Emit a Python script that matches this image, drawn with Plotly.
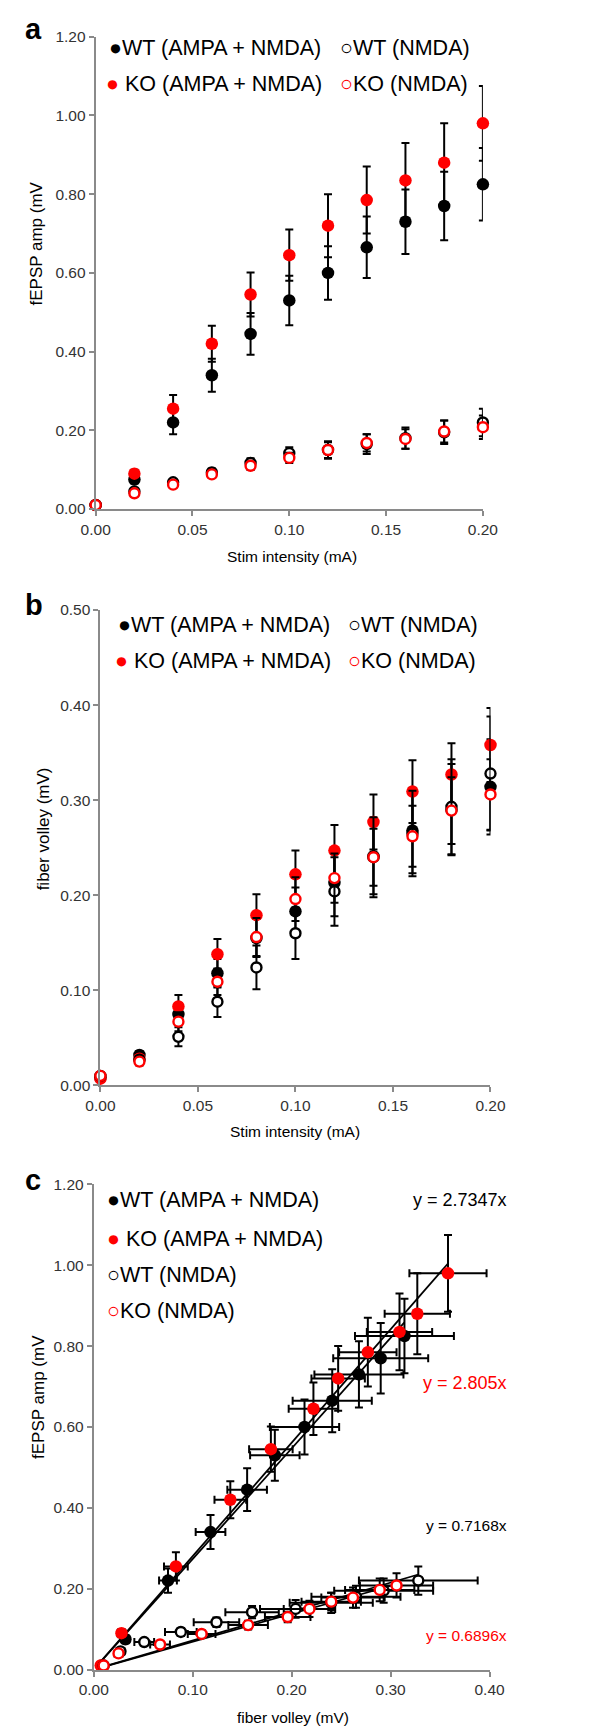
import plotly.graph_objects as go

# stimulus intensities (mA)
stim = [0.0, 0.02, 0.04, 0.06, 0.08, 0.10, 0.12, 0.14, 0.16, 0.18, 0.20]

# panel a: fEPSP amplitude (mV)
fepsp_wt_ampa = [0.01, 0.075, 0.22, 0.34, 0.445, 0.53, 0.60, 0.665, 0.73, 0.77, 0.825]
fepsp_wt_ampa_err = [0.003, 0.01, 0.03, 0.042, 0.053, 0.063, 0.068, 0.078, 0.082, 0.087, 0.092]
fepsp_ko_ampa = [0.01, 0.09, 0.255, 0.42, 0.545, 0.645, 0.72, 0.785, 0.835, 0.88, 0.98]
fepsp_ko_ampa_err = [0.003, 0.01, 0.035, 0.046, 0.056, 0.065, 0.08, 0.085, 0.095, 0.1, 0.095]
fepsp_wt_nmda = [0.01, 0.045, 0.068, 0.093, 0.117, 0.142, 0.15, 0.165, 0.18, 0.195, 0.22]
fepsp_wt_nmda_err = [0.002, 0.005, 0.007, 0.01, 0.012, 0.015, 0.022, 0.025, 0.027, 0.03, 0.035]
fepsp_ko_nmda = [0.01, 0.04, 0.062, 0.088, 0.11, 0.13, 0.15, 0.168, 0.178, 0.197, 0.208]
fepsp_ko_nmda_err = [0.002, 0.005, 0.007, 0.009, 0.011, 0.013, 0.02, 0.022, 0.025, 0.028, 0.03]

# panel b: fiber volley (mV)
fv_wt_ampa = [0.008, 0.032, 0.075, 0.118, 0.155, 0.183, 0.213, 0.241, 0.268, 0.29, 0.314]
fv_wt_ampa_err = [0.002, 0.004, 0.009, 0.015, 0.02, 0.025, 0.035, 0.04, 0.045, 0.048, 0.05]
fv_ko_ampa = [0.007, 0.028, 0.083, 0.138, 0.179, 0.222, 0.247, 0.277, 0.309, 0.327, 0.358]
fv_ko_ampa_err = [0.002, 0.004, 0.012, 0.016, 0.022, 0.025, 0.027, 0.029, 0.033, 0.033, 0.039]
fv_wt_nmda = [0.01, 0.027, 0.051, 0.088, 0.124, 0.16, 0.204, 0.24, 0.265, 0.293, 0.328]
fv_wt_nmda_err = [0.002, 0.004, 0.01, 0.016, 0.023, 0.027, 0.036, 0.042, 0.045, 0.05, 0.06]
fv_ko_nmda = [0.01, 0.025, 0.067, 0.109, 0.156, 0.196, 0.218, 0.24, 0.262, 0.289, 0.306]
fv_ko_nmda_err = [0.002, 0.004, 0.01, 0.014, 0.02, 0.023, 0.026, 0.03, 0.032, 0.035, 0.037]

# panel c: fitted slopes through origin
slopes = [2.7347, 2.805, 0.7168, 0.6896]
slope_labels = ["y = 2.7347x", "y = 2.805x", "y = 0.7168x", "y = 0.6896x"]

RED = "#ff0000"
FONT = "Arial, Liberation Sans, sans-serif"
W, H = 589, 1734

series = [
    ("WT (AMPA + NMDA)", "black", True, fepsp_wt_ampa, fepsp_wt_ampa_err, fv_wt_ampa, fv_wt_ampa_err),
    ("KO (AMPA + NMDA)", RED, True, fepsp_ko_ampa, fepsp_ko_ampa_err, fv_ko_ampa, fv_ko_ampa_err),
    ("WT (NMDA)", "black", False, fepsp_wt_nmda, fepsp_wt_nmda_err, fv_wt_nmda, fv_wt_nmda_err),
    ("KO (NMDA)", RED, False, fepsp_ko_nmda, fepsp_ko_nmda_err, fv_ko_nmda, fv_ko_nmda_err),
]


def marker(color, filled):
    if filled:
        return dict(color=color, size=12.5, line=dict(width=0))
    return dict(color="white", size=10, line=dict(color=color, width=2.4))


def err(arr):
    return dict(type="data", array=arr, color="black", thickness=2, width=4)


fig = go.Figure()

# fitted lines for panel c (drawn beneath the points)
line_sets = [fv_wt_ampa, fv_ko_ampa, fv_wt_nmda, fv_ko_nmda]
for k, fv in zip(slopes, line_sets):
    xs = [min(fv), max(fv)]
    fig.add_scatter(x=xs, y=[k * v for v in xs], mode="lines", xaxis="x3", yaxis="y3",
                    line=dict(color="black", width=1.8), showlegend=False, hoverinfo="skip")

for name, color, filled, amp, amp_e, fv, fv_e in series:
    fig.add_scatter(x=stim, y=amp, error_y=err(amp_e), mode="markers", name=name,
                    marker=marker(color, filled), xaxis="x", yaxis="y",
                    cliponaxis=False, showlegend=False)
    fig.add_scatter(x=stim, y=fv, error_y=err(fv_e), mode="markers", name=name,
                    marker=marker(color, filled), xaxis="x2", yaxis="y2",
                    cliponaxis=False, showlegend=False)
    fig.add_scatter(x=fv, y=amp, error_y=err(amp_e), error_x=err(fv_e), mode="markers", name=name,
                    marker=marker(color, filled), xaxis="x3", yaxis="y3",
                    cliponaxis=False, showlegend=False)


def px_x(x):
    return x / W


def px_y(y):
    return 1 - y / H


axis_style = dict(showgrid=False, zeroline=False, showline=True, linecolor="#8a8a8a", linewidth=2,
                  ticks="outside", ticklen=5, tickwidth=1.5, tickcolor="#8a8a8a",
                  tickfont=dict(size=15.5, color="#333333", family=FONT), tickformat=".2f")

fig.update_layout(
    width=W, height=H, margin=dict(l=0, r=0, t=0, b=0),
    paper_bgcolor="white", plot_bgcolor="white",
    font=dict(family=FONT, color="black"),
    xaxis=dict(axis_style, domain=[px_x(85), px_x(493)], range=[0, 0.2], dtick=0.05, anchor="y"),
    yaxis=dict(axis_style, domain=[px_y(505), px_y(28)], range=[0, 1.2], dtick=0.2, anchor="x"),
    xaxis2=dict(axis_style, domain=[px_x(90), px_x(501)], range=[0, 0.2], dtick=0.05, anchor="y2"),
    yaxis2=dict(axis_style, domain=[px_y(1087), px_y(607)], range=[0, 0.5], dtick=0.1, anchor="x2"),
    xaxis3=dict(axis_style, domain=[px_x(83), px_x(500)], range=[0, 0.4], dtick=0.1, anchor="y3"),
    yaxis3=dict(axis_style, domain=[px_y(1677), px_y(1187)], range=[0, 1.2], dtick=0.2, anchor="x3"),
)

ann = []


def text(x, y, s, size, color="black", xanchor="left", angle=0, bold=False):
    if bold:
        s = "<b>" + s + "</b>"
    ann.append(dict(x=px_x(x), y=px_y(y), xref="paper", yref="paper", text=s, showarrow=False,
                    xanchor=xanchor, yanchor="middle", textangle=angle,
                    font=dict(size=size, color=color, family=FONT)))


# panel letters
text(8, 20, "a", 29, bold=True)
text(8, 602, "b", 29, bold=True)
text(8, 1183, "c", 29, bold=True)

# axis titles
text(292, 553, "Stim intensity (mA)", 15.5, xanchor="center")
text(295, 1134, "Stim intensity (mA)", 15.5, xanchor="center")
text(293, 1725, "fiber volley (mV)", 15.5, xanchor="center")
text(23, 237, "fEPSP amp (mV", 17, xanchor="center", angle=-90)
text(30, 828, "fiber volley (mV)", 17, xanchor="center", angle=-90)
text(25, 1402, "fEPSP amp (mV", 17, xanchor="center", angle=-90)

dot = "<span style='color:%s'>%s</span>"
FILLED, OPEN = "\u25cf", "<b>\u25cb</b>"
LEG = 21.5

# legends a and b (two columns)
for y1, y2, xl, xr in [(39, 76, 97, 340), (622, 658, 106, 349)]:
    text(xl, y1, dot % ("black", FILLED) + "WT (AMPA + NMDA)", LEG)
    text(xl - 3, y2, dot % (RED, FILLED) + " KO (AMPA + NMDA)", LEG)
    text(xr, y1, dot % ("black", OPEN) + "WT (NMDA)", LEG)
    text(xr, y2, dot % (RED, OPEN) + "KO (NMDA)", LEG)

# legend c (one column)
text(95, 1203, dot % ("black", FILLED) + "WT (AMPA + NMDA)", LEG)
text(95, 1242, dot % (RED, FILLED) + " KO (AMPA + NMDA)", LEG)
text(95, 1279, dot % ("black", OPEN) + "WT (NMDA)", LEG)
text(95, 1315, dot % (RED, OPEN) + "KO (NMDA)", LEG)

# fitted equations
for (y, size, color), label in zip([(1203, 18, "black"), (1388, 18, RED), (1532, 15.5, "black"), (1643, 15.5, RED)], slope_labels):
    text(520, y, label, size, color=color, xanchor="right")

fig.update_layout(annotations=ann)
# drop the browser's default page margin so the figure sits at the window origin
fig.write_html("out.html", config={"displayModeBar": False},
               post_script="document.body.style.margin='0';")
